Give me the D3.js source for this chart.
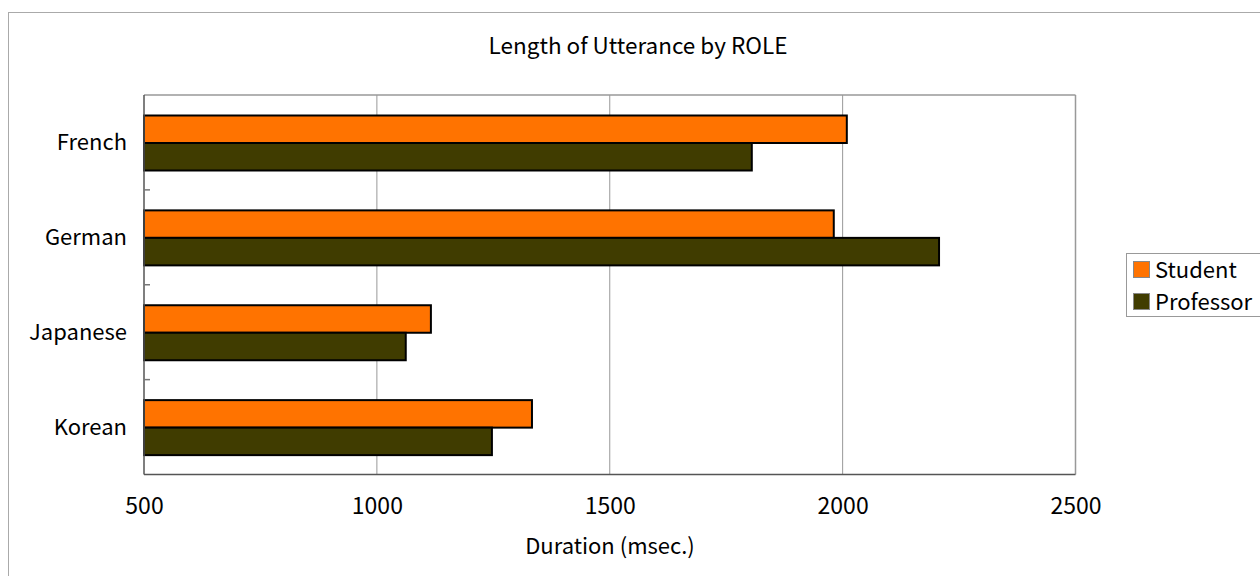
<!DOCTYPE html>
<html><head><meta charset="utf-8">
<script src="https://cdn.jsdelivr.net/npm/d3@7"></script>
<style>body{margin:0;background:#fff}svg{display:block}text{font-family:"Noto Sans CJK JP","Noto Sans",sans-serif;fill:#000}</style>
</head><body>
<script>
const categories = ["French", "German", "Japanese", "Korean"];
const seriesNames = ["Student", "Professor"];
const studentValues = [2009, 1981, 1116, 1333];
const professorValues = [1805, 2207, 1062, 1247];
const xTicks = [500, 1000, 1500, 2000, 2500];
const colors = ["#FF7300", "#403C00"];

const W = 1260, H = 576;
const svg = d3.select("body").append("svg").attr("width", W).attr("height", H);
const L = 144, R = 1075.5, T = 95, B = 474.5;

svg.append("rect").attr("x", 8.5).attr("y", 12.5).attr("width", 1270).attr("height", 600)
  .attr("fill", "#fff").attr("stroke", "#aaa").attr("stroke-width", 1);

const x = d3.scaleLinear().domain([500, 2500]).range([L, R]);
const y = d3.scaleBand().domain(categories).range([T, B]).paddingInner(0).paddingOuter(0);
const inner = d3.scaleBand().domain(seriesNames).range([20.5, 75.5]).padding(0);

// grid lines
svg.append("g").selectAll("line").data(xTicks.slice(1, -1)).join("line")
  .attr("x1", d => x(d)).attr("x2", d => x(d)).attr("y1", T).attr("y2", B)
  .attr("stroke", "#999").attr("stroke-width", 1);

// plot border
svg.append("line").attr("x1", L).attr("x2", R).attr("y1", T).attr("y2", T).attr("stroke", "#999").attr("stroke-width", 1.5);
svg.append("line").attr("x1", R).attr("x2", R).attr("y1", T).attr("y2", B).attr("stroke", "#999").attr("stroke-width", 1.5);

const data = categories.map((c, i) => ({cat: c, vals: [studentValues[i], professorValues[i]]}));
const g = svg.append("g");
data.forEach(d => {
  d.vals.forEach((v, j) => {
    g.append("rect")
      .attr("x", x(500)).attr("y", y(d.cat) + inner(seriesNames[j]))
      .attr("width", x(v) - x(500)).attr("height", inner.bandwidth())
      .attr("fill", colors[j]).attr("stroke", "#000").attr("stroke-width", 2);
  });
});

// left axis with category ticks
svg.append("line").attr("x1", L).attr("x2", L).attr("y1", T).attr("y2", B).attr("stroke", "#555").attr("stroke-width", 1.5);
svg.append("line").attr("x1", L).attr("x2", R).attr("y1", B).attr("y2", B).attr("stroke", "#555").attr("stroke-width", 1.5);
svg.append("g").selectAll("line").data(categories.slice(1)).join("line")
  .attr("x1", L).attr("x2", L + 6).attr("y1", d => y(d)).attr("y2", d => y(d))
  .attr("stroke", "#777").attr("stroke-width", 1.5);

svg.append("g").selectAll("text").data(categories).join("text")
  .attr("x", 127).attr("y", d => y(d) + y.bandwidth() / 2 + 8)
  .attr("text-anchor", "end").attr("font-size", 22).text(d => d);

// x axis labels
const xa = d3.axisBottom(x).tickValues(xTicks).tickSize(0).tickPadding(0).tickFormat(d3.format("d"));
const xg = svg.append("g").attr("transform", `translate(0,${B})`).call(xa);
xg.select(".domain").remove();
xg.selectAll("text").attr("y", 39).attr("dy", 0).attr("font-size", 23)
  .style("font-family", '"Noto Sans CJK JP","Noto Sans",sans-serif').attr("fill", "#000");

svg.append("text").attr("x", 610).attr("y", 554).attr("text-anchor", "middle").attr("font-size", 22).text("Duration (msec.)");
svg.append("text").attr("x", 638).attr("y", 54).attr("text-anchor", "middle").attr("font-size", 22.5).text("Length of Utterance by ROLE");

// legend
const lg = svg.append("g");
lg.append("rect").attr("x", 1126.5).attr("y", 253.5).attr("width", 140).attr("height", 63)
  .attr("fill", "#fff").attr("stroke", "#999").attr("stroke-width", 1);
seriesNames.forEach((s, i) => {
  lg.append("rect").attr("x", 1133.5).attr("y", 261.5 + i * 32).attr("width", 16).attr("height", 16)
    .attr("fill", colors[i]).attr("stroke", "#888").attr("stroke-width", 1);
  lg.append("text").attr("x", 1155).attr("y", 277.5 + i * 32).attr("font-size", 22).text(s);
});
</script>
</body></html>
